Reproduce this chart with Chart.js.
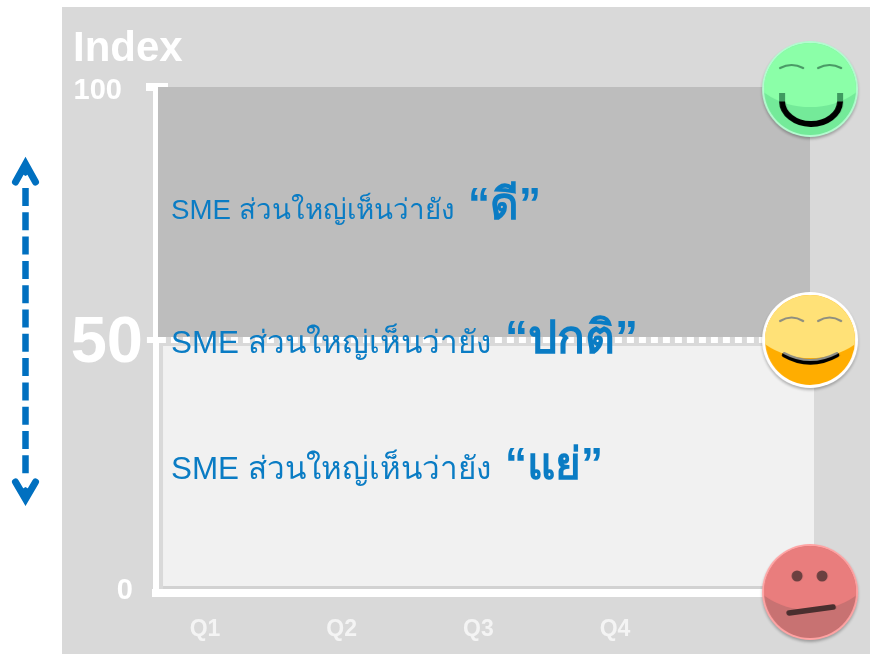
<!DOCTYPE html>
<html><head><meta charset="utf-8">
<style>html,body{margin:0;padding:0;background:#fff}#w{position:absolute;left:0;top:0;width:870px;height:654px}</style>
<script src="https://cdn.jsdelivr.net/npm/chart.js@4/dist/chart.umd.min.js"></script>
</head><body><div id="w"><canvas id="c" width="870" height="654"></canvas></div>
<script>
const categories = ['Q1','Q2','Q3','Q4'];
const yTickLabels = ['100','50','0'];
const yTickValues = [100,50,0];
const goodBand = [50.6,100];
const badBand = [1.1,48.8];
const xRange = [0.6415,5.463];
const goodBandX = [0.655,5.427];
const badBandX = [0.693,5.456];
const midLineX = [0.575,5.2];
const faceX = 5.427;
const prefix = ['SME ส่วนใหญ่เห็นว่ายัง','SME ส่วนใหญ่เห็นว่ายัง','SME ส่วนใหญ่เห็นว่ายัง'];
const verdict = ['“ดี”','“ปกติ”','“แย่”'];

const SANS='"Liberation Sans","Noto Sans","DejaVu Sans",sans-serif';
function face(kind){
  const cv=document.createElement('canvas');cv.width=124;cv.height=124;
  const g=cv.getContext('2d');
  const dy={good:2,ok:0,bad:-1}[kind];
  const cx=62,cy=62+dy,R=48;
  const pal={good:{ring:'#b4fbd0',base:'#74ea99',top:'#8bffa8',brow:'#4a9a66'},
             ok:{ring:'#ffffff',base:'#ffad00',top:'#ffe177',brow:'#8f8f80'},
             bad:{ring:'#ffa3a3',base:'#c87272',top:'#e97d7d',brow:'#6b4040'}}[kind];
  g.shadowColor='rgba(0,0,0,.28)';g.shadowBlur=3;g.shadowOffsetY=2;
  g.fillStyle=pal.ring;g.beginPath();g.arc(cx,cy,R,0,7);g.fill();
  g.shadowColor='transparent';
  const inner=kind==='ok'?45:46;
  g.fillStyle=pal.base;g.beginPath();g.arc(cx,cy,inner,0,7);g.fill();
  g.save();g.beginPath();g.arc(cx,cy,inner,0,7);g.clip();
  g.fillStyle=pal.top;g.beginPath();g.ellipse(cx,cy-26,62,44,0,0,7);g.fill();g.restore();
  g.lineCap='round';
  if(kind==='bad'){
    g.fillStyle=pal.brow;
    g.beginPath();g.arc(cx-13,cy-16,5.5,0,7);g.fill();
    g.beginPath();g.arc(cx+12,cy-16,5.5,0,7);g.fill();
    g.strokeStyle='#4a2f2f';g.lineWidth=5.5;
    g.beginPath();g.moveTo(cx-21,cy+21);g.lineTo(cx+23,cy+15);g.stroke();
  }else{
    const by=kind==='good'?-21:-19,bh=kind==='good'?-6:-7;
    g.strokeStyle=pal.brow;g.lineWidth=2.2;
    [[-30,-7],[8,31]].forEach(([a,b])=>{
      g.beginPath();g.moveTo(cx+a,cy+by);g.quadraticCurveTo(cx+(a+b)/2,cy+by+bh,cx+b,cy+by);g.stroke();});
    if(kind==='good'){
      g.lineCap='butt';g.strokeStyle='#3f9a60';g.lineWidth=6;
      [-28,30].forEach(a=>{g.beginPath();g.moveTo(cx+a,cy+4);g.lineTo(cx+a,cy+13);g.stroke();});
      g.strokeStyle='#000';g.lineWidth=6;
      g.beginPath();g.ellipse(cx+1,cy+12,29,23,0,0.02,Math.PI-0.02);g.stroke();
    }else{
      g.strokeStyle='#000';g.lineWidth=4.5;
      g.beginPath();g.moveTo(cx-26,cy+15);g.quadraticCurveTo(cx,cy+30,cx+27,cy+15);g.stroke();
      g.strokeStyle='#8f8f86';g.lineWidth=2;
      g.beginPath();g.moveTo(cx-26,cy+13);g.quadraticCurveTo(cx,cy+27,cx+27,cy+13);g.stroke();
    }
  }
  return cv;
}

const decor={
  id:'decor',
  beforeDraw(ch){
    const c=ch.ctx;c.save();c.fillStyle='#fff';c.fillRect(0,0,870,654);
    c.fillStyle='#d9d9d9';c.fillRect(62,7,808,647);
    c.fillStyle='#fff';c.font='bold 42px '+SANS;c.textBaseline='alphabetic';c.fillText('Index',73,61);
    // double arrow
    c.strokeStyle='#0070c0';c.lineWidth=6.5;c.setLineDash([18,6.3]);c.beginPath();c.moveTo(25.5,188);c.lineTo(25.5,478);c.stroke();
    c.setLineDash([]);c.lineCap='round';c.lineJoin='miter';c.lineWidth=7;
    c.beginPath();c.moveTo(15.5,182);c.lineTo(25.5,164);c.lineTo(35.5,182);c.stroke();
    c.beginPath();c.moveTo(15.5,482);c.lineTo(25.5,499);c.lineTo(35.5,482);c.stroke();
    c.lineCap='butt';c.fillStyle='#0070c0';
    c.beginPath();c.moveTo(25.5,158);c.lineTo(19,172);c.lineTo(25.5,176);c.lineTo(32,172);c.closePath();c.fill();
    c.beginPath();c.moveTo(25.5,505);c.lineTo(19,491);c.lineTo(25.5,487);c.lineTo(32,491);c.closePath();c.fill();
    c.restore();
  },
  beforeDatasetsDraw(ch){
    const c=ch.ctx,y=ch.scales.y,top=y.getPixelForValue(100);
    c.save();c.fillStyle='#fff';c.fillRect(146,top-4,22,8);
    c.restore();
  },
  afterDraw(ch){
    const c=ch.ctx,y=ch.scales.y;c.save();
    c.fillStyle='#fff';c.textBaseline='alphabetic';c.textAlign='right';
    const size=[29,65,29],right=[122,143,133],off=[11.5,22,5.5];
    yTickValues.forEach((v,i)=>{c.font='bold '+size[i]+'px '+SANS;c.fillText(yTickLabels[i],right[i],y.getPixelForValue(v)+off[i]);});
    c.textAlign='left';c.fillStyle='#0a7cc4';
    const base=[219,352.5,478.5],sz=[27.7,31.4,31.4],vs=[44,46,44],vx=[468,505,505];
    prefix.forEach((p,i)=>{
      c.font=sz[i]+'px '+SANS;c.fillText(p,171,base[i]);
      c.font='bold '+vs[i]+'px '+SANS;c.fillText(verdict[i],vx[i],base[i]);
    });
    c.restore();
  }
};

new Chart(document.getElementById('c'),{
  type:'scatter',
  data:{datasets:[
    {label:'Faces',order:0,data:yTickValues.map(v=>({x:faceX,y:v})),pointStyle:[face('good'),face('ok'),face('bad')],pointRadius:10,showLine:false,clip:false},
    {label:'Neutral line',order:1,data:[{x:midLineX[0],y:50},{x:midLineX[1],y:50}],showLine:true,borderColor:'#fff',borderWidth:6,borderDash:[7,5],pointRadius:0,clip:false},
    {label:'Good',order:2,data:goodBandX.map(x=>({x,y:goodBand[1]})),showLine:true,borderWidth:0,borderColor:'transparent',backgroundColor:'#bdbdbd',fill:{value:goodBand[0]},pointRadius:0,clip:false},
    {label:'Bad',order:3,data:badBandX.map(x=>({x,y:badBand[0]})),showLine:true,borderWidth:3,borderColor:'#d2d2d2',backgroundColor:'#f1f1f1',fill:{value:badBand[1]},pointRadius:0,clip:false}
  ]},
  plugins:[decor],
  options:{
    responsive:false,animation:false,devicePixelRatio:1,
    layout:{padding:{top:87,right:55,left:0,bottom:0}},
    plugins:{legend:{display:false},tooltip:{enabled:false},title:{display:false}},
    scales:{
      x:{type:'linear',min:xRange[0],max:xRange[1],
        afterBuildTicks(s){s.ticks=categories.map((_,i)=>({value:i+1}));},
        afterFit(s){s.height=61;},
        grid:{display:false},border:{display:true,color:'#fff',width:8},
        ticks:{color:'#f4f4f4',font:{family:SANS,size:23,weight:'bold'},padding:15,maxRotation:0,autoSkip:false,
          callback:v=>categories[v-1]}},
      y:{type:'linear',min:0,max:100,
        afterFit(s){s.width=156;},
        grid:{display:false},border:{display:true,color:'#fff',width:6},
        ticks:{display:false}}
    }
  }
});
</script></body></html>
